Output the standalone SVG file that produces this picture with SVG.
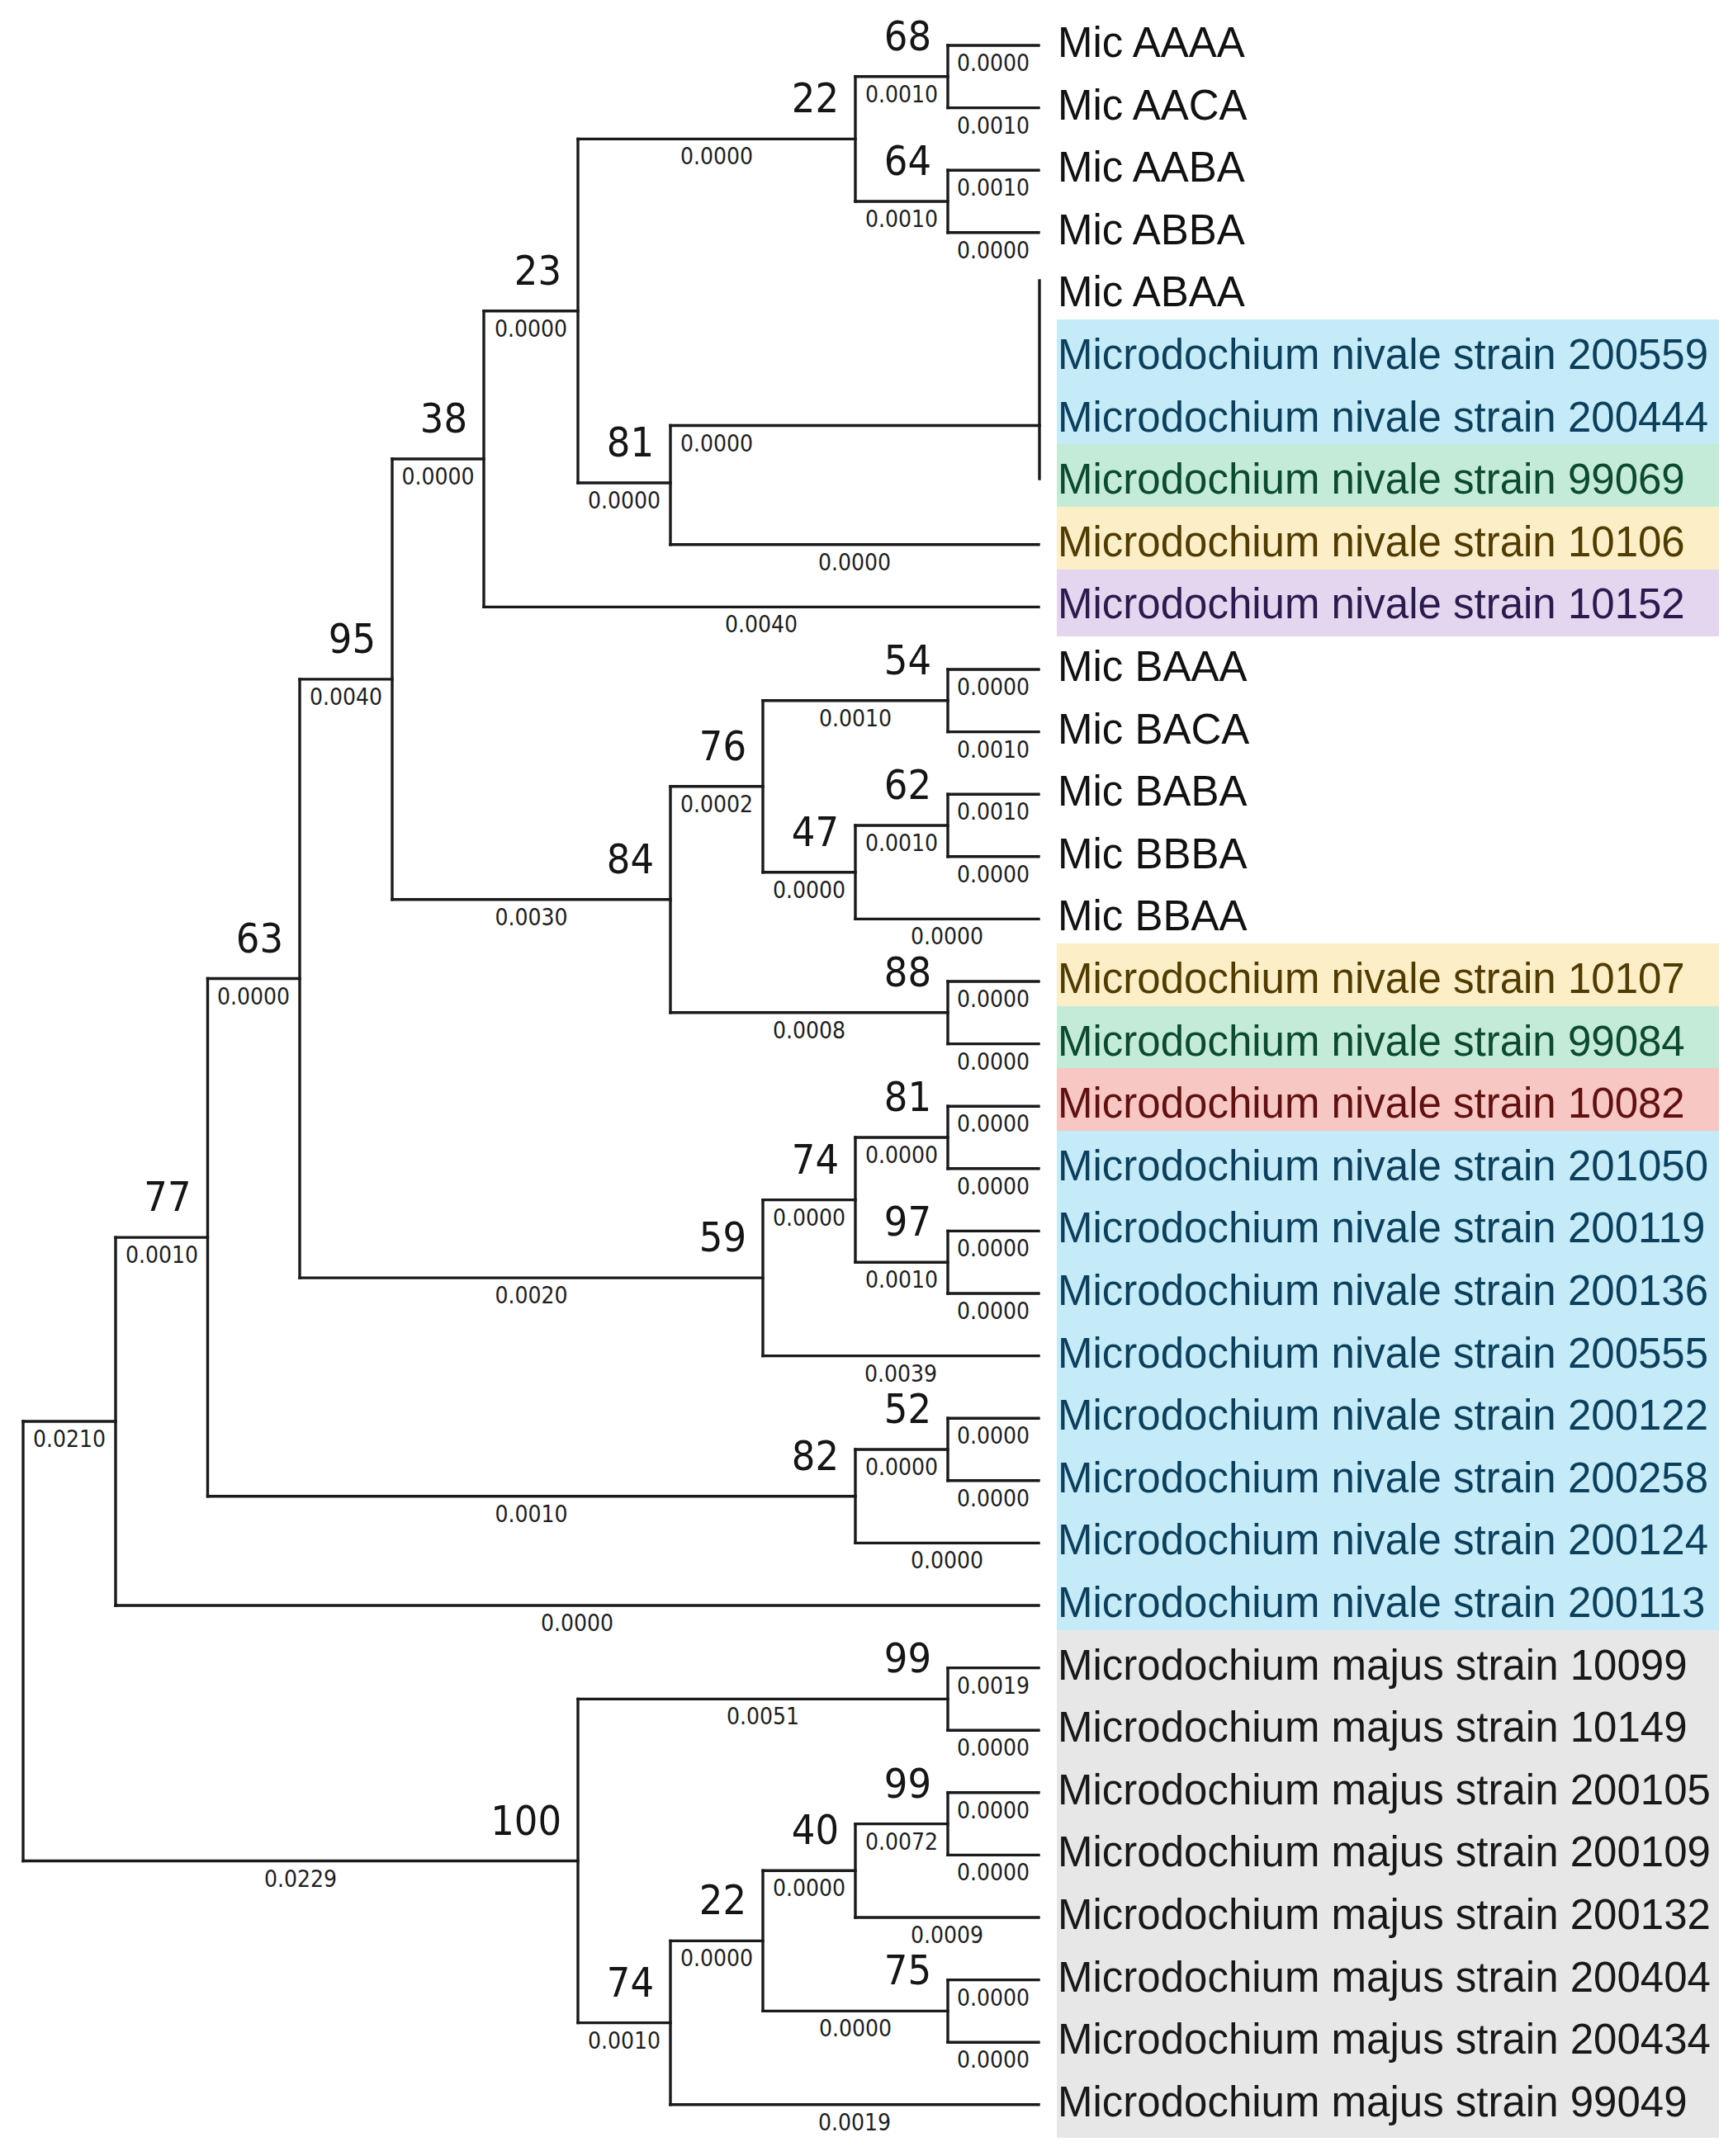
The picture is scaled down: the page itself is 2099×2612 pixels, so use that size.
<svg xmlns="http://www.w3.org/2000/svg" width="2099" height="2612" viewBox="0 0 2099 2612">
<style>
.br{fill:none;stroke:#1a1a1a;stroke-width:3.4;stroke-linecap:square}
.bl{font-family:"DejaVu Sans Condensed","DejaVu Sans",sans-serif;font-size:28px;fill:#1e1e1e;text-anchor:middle}
.bs{font-family:"DejaVu Sans Condensed","DejaVu Sans",sans-serif;font-size:50px;fill:#151515;text-anchor:end}
.lf{font-family:"Liberation Sans",Arial,sans-serif;font-size:51px;fill:#111111}
.blue{fill:#c4ebf7}.green{fill:#c3ebd8}.yellow{fill:#fcefc8}.purple{fill:#e3d6ee}.red{fill:#f6c7c3}.gray{fill:#e7e7e7}
.tblue{fill:#0b3f5c}.tgreen{fill:#0b4a2c}.tyellow{fill:#503b00}.tpurple{fill:#2a1b4f}.tred{fill:#611010}.tgray{fill:#181818}
</style>
<rect width="2099" height="2612" fill="#ffffff"/>
<g id="bands">
<rect class="blue" x="1280" y="387" width="802" height="151"/>
<rect class="green" x="1280" y="538" width="802" height="76"/>
<rect class="yellow" x="1280" y="614" width="802" height="76"/>
<rect class="purple" x="1280" y="690" width="802" height="81"/>
<rect class="yellow" x="1280" y="1143" width="802" height="76"/>
<rect class="green" x="1280" y="1219" width="802" height="75"/>
<rect class="red" x="1280" y="1294" width="802" height="76"/>
<rect class="blue" x="1280" y="1370" width="802" height="605"/>
<rect class="gray" x="1280" y="1975" width="802" height="615"/>
</g>
<g id="connectors">
<path class="br" d="M1148,55H1258M1148,130.6H1258M1148,206.2H1258M1148,281.8H1258M812,659.8H1258M586,735.4H1258M1148,811H1258M1148,886.6H1258M1148,962.2H1258M1148,1037.8H1258M1036,1113.4H1258M1148,1189H1258M1148,1264.6H1258M1148,1340.2H1258M1148,1415.8H1258M1148,1491.4H1258M1148,1567H1258M924,1642.6H1258M1148,1718.2H1258M1148,1793.8H1258M1036,1869.4H1258M140,1945H1258M1148,2020.6H1258M1148,2096.2H1258M1148,2171.8H1258M1148,2247.4H1258M1036,2323H1258M1148,2398.6H1258M1148,2474.2H1258M812,2549.8H1258"/>
<path class="br" d="M1148,55V130.6M1148,206.2V281.8M1036,92.8V244M1259,340V580M812,515.5V659.8M700,168.4V585M586,376.7V735.4M1148,811V886.6M1148,962.2V1037.8M1036,1000V1113.4M924,848.8V1056.7M1148,1189V1264.6M812,952.8V1226.8M475,556V1089.8M1148,1340.2V1415.8M1148,1491.4V1567M1036,1378V1529.2M924,1453.6V1642.6M363,822.9V1548.1M1148,1718.2V1793.8M1036,1756V1869.4M251.5,1185.5V1812.7M140,1499.1V1945M1148,2020.6V2096.2M1148,2171.8V2247.4M1036,2209.6V2323M1148,2398.6V2474.2M924,2266.3V2436.4M812,2351.4V2549.8M700,2058.4V2450.6M28,1722V2254.5"/>
<path class="br" d="M1036,92.8H1148M1036,244H1148M700,168.4H1036M812,515.5H1259M700,585H812M586,376.7H700M475,556H586M924,848.8H1148M1036,1000H1148M924,1056.7H1036M812,952.8H924M812,1226.8H1148M475,1089.8H812M363,822.9H475M1036,1378H1148M1036,1529.2H1148M924,1453.6H1036M363,1548.1H924M251.5,1185.5H363M1036,1756H1148M251.5,1812.7H1036M140,1499.1H251.5M28,1722H140M700,2058.4H1148M1036,2209.6H1148M924,2266.3H1036M924,2436.4H1148M812,2351.4H924M700,2450.6H812M28,2254.5H700"/>
<g id="branch-lengths">
<text class="bl" x="1203" y="86">0.0000</text>
<text class="bl" x="1203" y="161.6">0.0010</text>
<text class="bl" x="1092" y="123.8">0.0010</text>
<text class="bl" x="1203" y="237.2">0.0010</text>
<text class="bl" x="1203" y="312.8">0.0000</text>
<text class="bl" x="1092" y="275">0.0010</text>
<text class="bl" x="868" y="199.4">0.0000</text>
<text class="bl" x="643" y="407.7">0.0000</text>
<text class="bl" x="530.5" y="587">0.0000</text>
<text class="bl" x="756" y="616">0.0000</text>
<text class="bl" x="868" y="546.5">0.0000</text>
<text class="bl" x="1035" y="690.8">0.0000</text>
<text class="bl" x="922" y="766.4">0.0040</text>
<text class="bl" x="419" y="853.9">0.0040</text>
<text class="bl" x="643.5" y="1120.8">0.0030</text>
<text class="bl" x="868" y="983.8">0.0002</text>
<text class="bl" x="1036" y="879.8">0.0010</text>
<text class="bl" x="1203" y="842">0.0000</text>
<text class="bl" x="1203" y="917.6">0.0010</text>
<text class="bl" x="980" y="1087.7">0.0000</text>
<text class="bl" x="1092" y="1031">0.0010</text>
<text class="bl" x="1203" y="993.2">0.0010</text>
<text class="bl" x="1203" y="1068.8">0.0000</text>
<text class="bl" x="1147" y="1144.4">0.0000</text>
<text class="bl" x="980" y="1257.8">0.0008</text>
<text class="bl" x="1203" y="1220">0.0000</text>
<text class="bl" x="1203" y="1295.6">0.0000</text>
<text class="bl" x="643.5" y="1579.1">0.0020</text>
<text class="bl" x="980" y="1484.6">0.0000</text>
<text class="bl" x="1092" y="1409">0.0000</text>
<text class="bl" x="1203" y="1371.2">0.0000</text>
<text class="bl" x="1203" y="1446.8">0.0000</text>
<text class="bl" x="1092" y="1560.2">0.0010</text>
<text class="bl" x="1203" y="1522.4">0.0000</text>
<text class="bl" x="1203" y="1598">0.0000</text>
<text class="bl" x="1091" y="1673.6">0.0039</text>
<text class="bl" x="307" y="1216.5">0.0000</text>
<text class="bl" x="643.5" y="1843.7">0.0010</text>
<text class="bl" x="1092" y="1787">0.0000</text>
<text class="bl" x="1203" y="1749.2">0.0000</text>
<text class="bl" x="1203" y="1824.8">0.0000</text>
<text class="bl" x="1147" y="1900.4">0.0000</text>
<text class="bl" x="196" y="1530.1">0.0010</text>
<text class="bl" x="699" y="1976">0.0000</text>
<text class="bl" x="84" y="1753">0.0210</text>
<text class="bl" x="364" y="2285.5">0.0229</text>
<text class="bl" x="924" y="2089.4">0.0051</text>
<text class="bl" x="1203" y="2051.6">0.0019</text>
<text class="bl" x="1203" y="2127.2">0.0000</text>
<text class="bl" x="756" y="2481.6">0.0010</text>
<text class="bl" x="868" y="2382.4">0.0000</text>
<text class="bl" x="980" y="2297.3">0.0000</text>
<text class="bl" x="1092" y="2240.6">0.0072</text>
<text class="bl" x="1203" y="2202.8">0.0000</text>
<text class="bl" x="1203" y="2278.4">0.0000</text>
<text class="bl" x="1147" y="2354">0.0009</text>
<text class="bl" x="1036" y="2467.4">0.0000</text>
<text class="bl" x="1203" y="2429.6">0.0000</text>
<text class="bl" x="1203" y="2505.2">0.0000</text>
<text class="bl" x="1035" y="2580.8">0.0019</text>
</g>
</g>
<g id="nodes">
<g id="n68"><text class="bs" x="1128" y="61">68</text></g>
<g id="n22a"><text class="bs" x="1016" y="136.4">22</text></g>
<g id="n64"><text class="bs" x="1128" y="212">64</text></g>
<g id="n23"><text class="bs" x="680" y="344.7">23</text></g>
<g id="n81a"><text class="bs" x="792" y="553">81</text></g>
<g id="n38"><text class="bs" x="566" y="524">38</text></g>
<g id="n95"><text class="bs" x="455" y="791">95</text></g>
<g id="n54"><text class="bs" x="1128" y="817">54</text></g>
<g id="n76"><text class="bs" x="904" y="921">76</text></g>
<g id="n62"><text class="bs" x="1128" y="968">62</text></g>
<g id="n47"><text class="bs" x="1016" y="1025">47</text></g>
<g id="n84"><text class="bs" x="792" y="1058">84</text></g>
<g id="n63"><text class="bs" x="343" y="1153.5">63</text></g>
<g id="n88"><text class="bs" x="1128" y="1195">88</text></g>
<g id="n81b"><text class="bs" x="1128" y="1346">81</text></g>
<g id="n74a"><text class="bs" x="1016" y="1421.6">74</text></g>
<g id="n77"><text class="bs" x="231.5" y="1467">77</text></g>
<g id="n97"><text class="bs" x="1128" y="1497">97</text></g>
<g id="n59"><text class="bs" x="904" y="1516">59</text></g>
<g id="n52"><text class="bs" x="1128" y="1724">52</text></g>
<g id="n82"><text class="bs" x="1016" y="1780.7">82</text></g>
<g id="n99a"><text class="bs" x="1128" y="2026.4">99</text></g>
<g id="n99b"><text class="bs" x="1128" y="2177.6">99</text></g>
<g id="n100"><text class="bs" x="680" y="2222.5">100</text></g>
<g id="n40"><text class="bs" x="1016" y="2234">40</text></g>
<g id="n22b"><text class="bs" x="904" y="2319.4">22</text></g>
<g id="n75"><text class="bs" x="1128" y="2404.4">75</text></g>
<g id="n74b"><text class="bs" x="792" y="2418.6">74</text></g>
</g>
<g id="leaves">
<g id="leaf-AAAA"><text class="lf" x="1281" y="69">Mic AAAA</text></g>
<g id="leaf-AACA"><text class="lf" x="1281" y="144.6">Mic AACA</text></g>
<g id="leaf-AABA"><text class="lf" x="1281" y="220.2">Mic AABA</text></g>
<g id="leaf-ABBA"><text class="lf" x="1281" y="295.8">Mic ABBA</text></g>
<g id="leaf-ABAA"><text class="lf" x="1281" y="371.4">Mic ABAA</text></g>
<g id="leaf-200559"><text class="lf tblue" x="1281" y="447">Microdochium nivale strain 200559</text></g>
<g id="leaf-200444"><text class="lf tblue" x="1281" y="522.6">Microdochium nivale strain 200444</text></g>
<g id="leaf-99069"><text class="lf tgreen" x="1281" y="598.2">Microdochium nivale strain 99069</text></g>
<g id="leaf-10106"><text class="lf tyellow" x="1281" y="673.8">Microdochium nivale strain 10106</text></g>
<g id="leaf-10152"><text class="lf tpurple" x="1281" y="749.4">Microdochium nivale strain 10152</text></g>
<g id="leaf-BAAA"><text class="lf" x="1281" y="825">Mic BAAA</text></g>
<g id="leaf-BACA"><text class="lf" x="1281" y="900.6">Mic BACA</text></g>
<g id="leaf-BABA"><text class="lf" x="1281" y="976.2">Mic BABA</text></g>
<g id="leaf-BBBA"><text class="lf" x="1281" y="1051.8">Mic BBBA</text></g>
<g id="leaf-BBAA"><text class="lf" x="1281" y="1127.4">Mic BBAA</text></g>
<g id="leaf-10107"><text class="lf tyellow" x="1281" y="1203">Microdochium nivale strain 10107</text></g>
<g id="leaf-99084"><text class="lf tgreen" x="1281" y="1278.6">Microdochium nivale strain 99084</text></g>
<g id="leaf-10082"><text class="lf tred" x="1281" y="1354.2">Microdochium nivale strain 10082</text></g>
<g id="leaf-201050"><text class="lf tblue" x="1281" y="1429.8">Microdochium nivale strain 201050</text></g>
<g id="leaf-200119"><text class="lf tblue" x="1281" y="1505.4">Microdochium nivale strain 200119</text></g>
<g id="leaf-200136"><text class="lf tblue" x="1281" y="1581">Microdochium nivale strain 200136</text></g>
<g id="leaf-200555"><text class="lf tblue" x="1281" y="1656.6">Microdochium nivale strain 200555</text></g>
<g id="leaf-200122"><text class="lf tblue" x="1281" y="1732.2">Microdochium nivale strain 200122</text></g>
<g id="leaf-200258"><text class="lf tblue" x="1281" y="1807.8">Microdochium nivale strain 200258</text></g>
<g id="leaf-200124"><text class="lf tblue" x="1281" y="1883.4">Microdochium nivale strain 200124</text></g>
<g id="leaf-200113"><text class="lf tblue" x="1281" y="1959">Microdochium nivale strain 200113</text></g>
<g id="leaf-10099"><text class="lf tgray" x="1281" y="2034.6">Microdochium majus strain 10099</text></g>
<g id="leaf-10149"><text class="lf tgray" x="1281" y="2110.2">Microdochium majus strain 10149</text></g>
<g id="leaf-200105"><text class="lf tgray" x="1281" y="2185.8">Microdochium majus strain 200105</text></g>
<g id="leaf-200109"><text class="lf tgray" x="1281" y="2261.4">Microdochium majus strain 200109</text></g>
<g id="leaf-200132"><text class="lf tgray" x="1281" y="2337">Microdochium majus strain 200132</text></g>
<g id="leaf-200404"><text class="lf tgray" x="1281" y="2412.6">Microdochium majus strain 200404</text></g>
<g id="leaf-200434"><text class="lf tgray" x="1281" y="2488.2">Microdochium majus strain 200434</text></g>
<g id="leaf-99049"><text class="lf tgray" x="1281" y="2563.8">Microdochium majus strain 99049</text></g>
</g>
</svg>
